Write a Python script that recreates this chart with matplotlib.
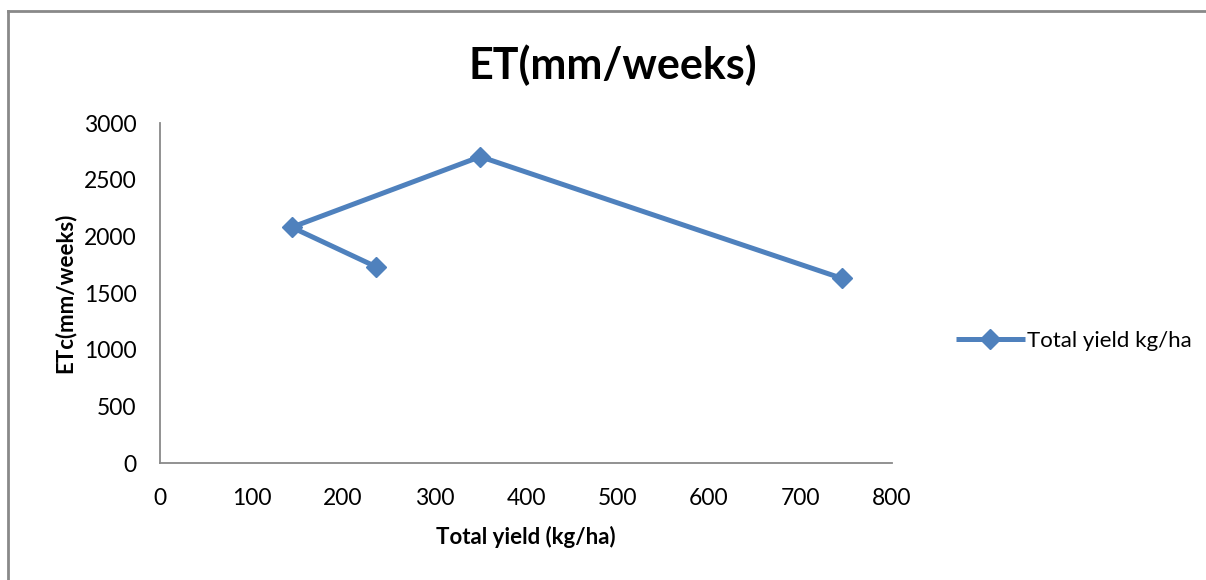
import matplotlib.pyplot as plt
from matplotlib.lines import Line2D

#### data
yield_kg = [236, 144, 350, 745]
etc_mm = [1732, 2080, 2703, 1630]
x_ticks = [0, 100, 200, 300, 400, 500, 600, 700, 800]
y_ticks = [0, 500, 1000, 1500, 2000, 2500, 3000]

blue = '#4F81BD'
grey = '#898989'
plt.rcParams['font.family'] = ['Lato', 'DejaVu Sans']

fig = plt.figure(figsize=(12.06, 5.8), dpi=100)
ax = fig.add_axes([160/1206, 1-463/580, (892-160)/1206, (463-123)/580])

ax.plot(yield_kg, etc_mm, color=blue, lw=3.6, marker='D', ms=10,
        label='Total yield kg/ha', solid_capstyle='butt')

ax.set_xlim(0, 800)
ax.set_ylim(0, 3000)
ax.set_xticks(x_ticks)
ax.set_yticks(y_ticks)
ax.tick_params(length=0, labelsize=16.5, pad=18)
ax.tick_params(axis='y', pad=17)
for s in ['top', 'right']:
    ax.spines[s].set_visible(False)
for s in ['left', 'bottom']:
    ax.spines[s].set_color(grey)
    ax.spines[s].set_linewidth(1.3)

ax.set_xlabel('Total yield (kg/ha)', fontsize=16, fontweight='bold', labelpad=12)
ax.set_ylabel('ETc(mm/weeks)', fontsize=16, fontweight='bold', labelpad=6)
fig.text(613/1206, 1-65/580, 'ET(mm/weeks)', fontsize=31, fontweight='bold',
         ha='center', va='center')

leg = ax.legend(loc='center left', bbox_to_anchor=(1.075, 0.36), frameon=False,
                fontsize=16, handlelength=3.1, handletextpad=0.1, borderaxespad=0)

#### outer frame: left and top only
fig.add_artist(Line2D([8/1206, 8/1206], [0, 1-11/580], color=grey, lw=2,
                      transform=fig.transFigure))
fig.add_artist(Line2D([8/1206, 1], [1-11/580, 1-11/580], color=grey, lw=2,
                      transform=fig.transFigure))

fig.savefig('out.png', dpi=100)
